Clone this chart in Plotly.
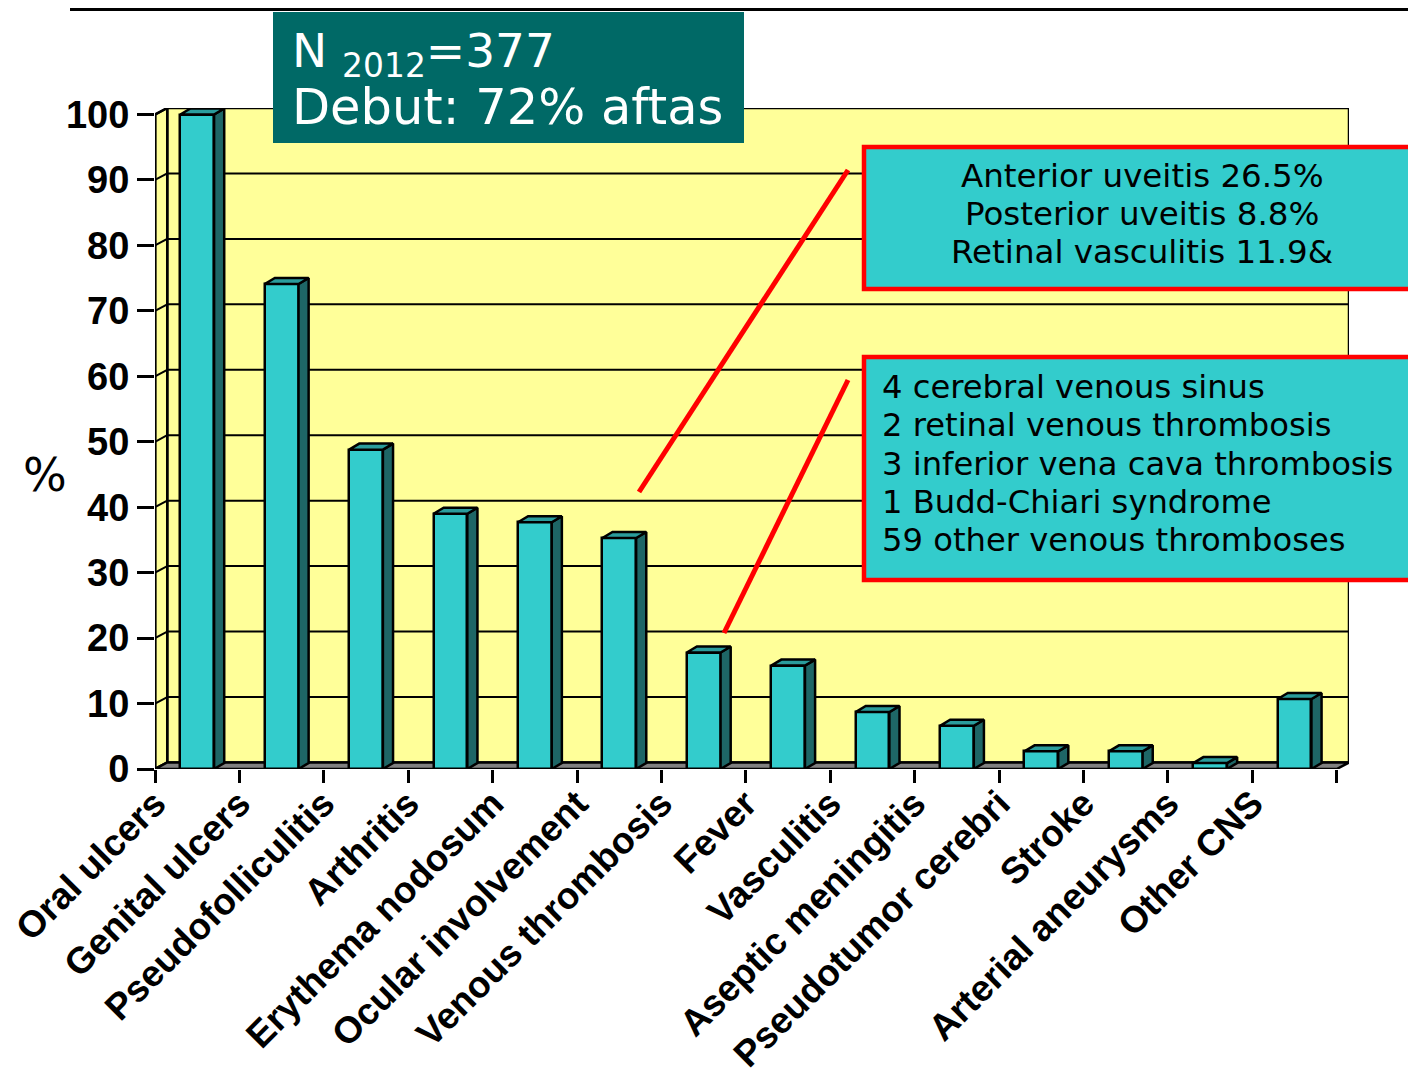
import plotly.graph_objects as go

# ---------------- data ----------------
categories = ["Oral ulcers", "Genital ulcers", "Pseudofolliculitis", "Arthritis",
              "Erythema nodosum", "Ocular involvement", "Venous thrombosis", "Fever",
              "Vasculitis", "Aseptic meningitis", "Pseudotumor cerebri", "Stroke",
              "Arterial aneurysms", "Other CNS"]
values = [100, 74.1, 48.8, 39.0, 37.7, 35.3, 17.8, 15.8, 8.7, 6.6, 2.7, 2.7, 0.9, 10.7]
y_ticks = [0, 10, 20, 30, 40, 50, 60, 70, 80, 90, 100]

title_line1 = "N <sub>2012</sub>=377"
title_line2 = "Debut: 72% aftas"
ocular_lines = ["Anterior uveitis 26.5%", "Posterior uveitis 8.8%", "Retinal vasculitis 11.9&"]
venous_lines = ["4 cerebral venous sinus", "2 retinal venous thrombosis",
                "3 inferior vena cava thrombosis", "1 Budd-Chiari syndrome",
                "59 other venous thromboses"]

# ---------------- style ----------------
FRONT = "#33CCCC"
SIDE = "#1E6666"
TOP = "#2A9C9C"
WALL = "#FFFF99"
FLOOR = "#808080"
BOXTEAL = "#006966"
RED = "#FF0000"

n = len(categories)
BW = 0.40          # bar front width (category units)
BDX, BDY = 0.12, 0.92   # bar depth offset
WDX, WDY = 0.145, 1.0   # wall depth offset
YMAX = 100

# plot area in page pixels (page has an 8px body margin)
OFF = 8
L, R, T, B = 155, 1349, 108, 769
FW, FH = 1416, 1069
def px(x):
    return (x - L) / (R - L)
def py(y):
    return (B - y) / (B - T)

xs = list(range(n))

fig = go.Figure()

# front faces
fig.add_trace(go.Bar(x=xs, y=values, width=BW, marker=dict(color=FRONT, line=dict(color="black", width=2.5)),
                     hoverinfo="skip", showlegend=False))

# side faces and top faces derived from values
side_x, side_y, top_x, top_y = [], [], [], []
for x, v in zip(xs, values):
    r = x + BW / 2
    l = x - BW / 2
    side_x += [r, r + BDX, r + BDX, r, r, None]
    side_y += [0, BDY, v + BDY, v, 0, None]
    top_x += [l, r, r + BDX, l + BDX, l, None]
    top_y += [v, v, v + BDY, v + BDY, v, None]
fig.add_trace(go.Scatter(x=side_x, y=side_y, mode="lines", fill="toself", fillcolor=SIDE,
                         line=dict(color="black", width=2.5), hoverinfo="skip", showlegend=False))
fig.add_trace(go.Scatter(x=top_x, y=top_y, mode="lines", fill="toself", fillcolor=TOP,
                         line=dict(color="black", width=2.5), hoverinfo="skip", showlegend=False))

x0 = -0.5
x1 = n - 0.5
shapes = []
# back wall
shapes.append(dict(type="rect", xref="x", yref="y", x0=x0 + WDX, x1=x1 + WDX, y0=WDY, y1=YMAX + WDY,
                   fillcolor=WALL, line=dict(color="black", width=2.5), layer="below"))
# left wall
shapes.append(dict(type="path", xref="x", yref="y",
                   path=f"M {x0},0 L {x0 + WDX},{WDY} L {x0 + WDX},{YMAX + WDY} L {x0},{YMAX} Z",
                   fillcolor=WALL, line=dict(color="black", width=2.5), layer="below"))
# gridlines on back wall and left wall
for t in y_ticks[1:]:
    shapes.append(dict(type="line", xref="x", yref="y", x0=x0 + WDX, x1=x1 + WDX, y0=t + WDY, y1=t + WDY,
                       line=dict(color="black", width=2), layer="below"))
    shapes.append(dict(type="line", xref="x", yref="y", x0=x0, x1=x0 + WDX, y0=t, y1=t + WDY,
                       line=dict(color="black", width=2), layer="below"))
# floor
shapes.append(dict(type="path", xref="x", yref="y",
                   path=f"M {x0},0 L {x1},0 L {x1 + WDX},{WDY} L {x0 + WDX},{WDY} Z",
                   fillcolor=FLOOR, line=dict(color="black", width=2.5), layer="below"))
# front y axis line
shapes.append(dict(type="line", xref="x", yref="y", x0=x0, x1=x0, y0=0, y1=YMAX,
                   line=dict(color="black", width=3), layer="above"))

# top rule (as high as the figure allows)
shapes.append(dict(type="line", xref="paper", yref="paper", x0=px(70), x1=px(1430), y0=py(9.5), y1=py(9.5),
                   line=dict(color="black", width=3)))
# title box
shapes.append(dict(type="rect", xref="paper", yref="paper", x0=px(273), x1=px(744), y0=py(143), y1=py(12),
                   fillcolor=BOXTEAL, line=dict(width=0), layer="above"))
# callout boxes
shapes.append(dict(type="rect", xref="paper", yref="paper", x0=px(864), x1=px(1440), y0=py(289), y1=py(147),
                   fillcolor=FRONT, line=dict(color=RED, width=4.5), layer="above"))
shapes.append(dict(type="rect", xref="paper", yref="paper", x0=px(864), x1=px(1440), y0=py(580), y1=py(357),
                   fillcolor=FRONT, line=dict(color=RED, width=4.5), layer="above"))
# callout pointer lines
shapes.append(dict(type="line", xref="paper", yref="paper", x0=px(848), y0=py(170), x1=px(639), y1=py(492),
                   line=dict(color=RED, width=5), layer="above"))
shapes.append(dict(type="line", xref="paper", yref="paper", x0=px(848), y0=py(380), x1=px(724), y1=py(633),
                   line=dict(color=RED, width=5), layer="above"))

annotations = []
annotations.append(dict(xref="paper", yref="paper", x=px(45), y=py(475), text="%", showarrow=False,
                        font=dict(family="DejaVu Sans", size=46, color="black"), xanchor="center", yanchor="middle"))
annotations.append(dict(xref="paper", yref="paper", x=px(290), y=py(54), text=title_line1, showarrow=False,
                        font=dict(family="DejaVu Sans", size=47, color="white"), xanchor="left", yanchor="middle"))
annotations.append(dict(xref="paper", yref="paper", x=px(290), y=py(107), text=title_line2, showarrow=False,
                        font=dict(family="DejaVu Sans", size=49.5, color="white"), xanchor="left", yanchor="middle"))
for i, line in enumerate(ocular_lines):
    annotations.append(dict(xref="paper", yref="paper", x=px(1142), y=py(176 + 38 * i), text=line,
                            showarrow=False, font=dict(family="DejaVu Sans", size=32.5, color="black"),
                            xanchor="center", yanchor="middle"))
for i, line in enumerate(venous_lines):
    annotations.append(dict(xref="paper", yref="paper", x=px(880), y=py(387 + 38.3 * i), text=line,
                            showarrow=False, font=dict(family="DejaVu Sans", size=32.2, color="black"),
                            xanchor="left", yanchor="middle"))

tickvals_x = [i - 0.5 for i in range(n + 1)]
ticktext_x = categories + [" "]

fig.update_layout(
    width=FW, height=FH,
    margin=dict(l=L - OFF, r=FW - (R - OFF), t=T - OFF, b=FH - (B - OFF), pad=0),
    paper_bgcolor="white", plot_bgcolor="white",
    showlegend=False,
    bargap=0,
    shapes=shapes,
    annotations=annotations,
    xaxis=dict(range=[x0, x1 + WDX], tickmode="array", tickvals=tickvals_x, ticktext=ticktext_x,
               tickangle=-45, ticks="outside", ticklen=13, tickwidth=2.5, tickcolor="black",
               ticklabelstandoff=-16,
               showgrid=False, zeroline=False, showline=False, automargin=False,
               tickfont=dict(family="Liberation Sans", size=37, color="black", weight="bold")),
    yaxis=dict(range=[0, YMAX + WDY], tickmode="array", tickvals=y_ticks, ticks="outside", ticklen=17,
               tickwidth=2.5, tickcolor="black", showgrid=False, zeroline=False, showline=False,
               automargin=False,
               tickfont=dict(family="Liberation Sans", size=38, color="black", weight="bold")),
)

fig.write_html("out.html")
